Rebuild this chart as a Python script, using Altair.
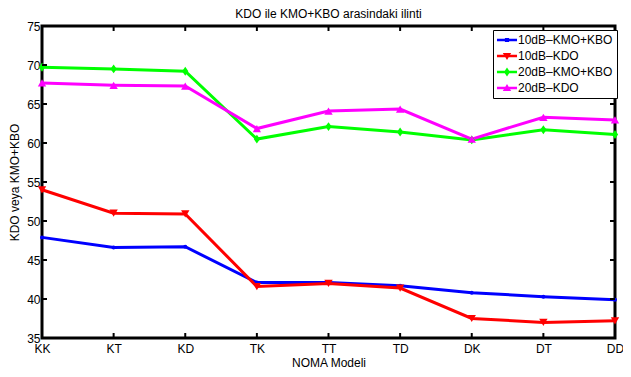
import altair as alt
import pandas as pd

# ---- data ----
models = ["KK", "KT", "KD", "TK", "TT", "TD", "DK", "DT", "DD"]
series_names = ["10dB–KMO+KBO", "10dB–KDO", "20dB–KMO+KBO", "20dB–KDO"]
kmo_kbo_10 = [47.9, 46.6, 46.7, 42.1, 42.1, 41.7, 40.8, 40.3, 39.9]
kdo_10 = [54.0, 51.0, 50.9, 41.6, 42.0, 41.4, 37.5, 37.0, 37.2]
kmo_kbo_20 = [69.7, 69.5, 69.2, 60.5, 62.1, 61.4, 60.4, 61.7, 61.1]
kdo_20 = [67.7, 67.4, 67.3, 61.85, 64.1, 64.35, 60.5, 63.3, 62.95]
colors = ["#0000FF", "#FF0000", "#00FF00", "#FF00FF"]
y_ticks = [35, 40, 45, 50, 55, 60, 65, 70, 75]

# ---- styling ----
FONT = "Liberation Sans"
W, H = 573, 312
marker_shapes = ["circle", "triangle-down", "M0,-1L0.7,0L0,1L-0.7,0Z", "triangle-up"]
marker_sizes = [16, 70, 80, 70]
# legend symbols: a line with the marker on it
bar = "M-1.67,-0.22L1.67,-0.22L1.67,0.22L-1.67,0.22Z"
legend_paths = [
    bar + "M-0.35,-0.35L0.35,-0.35L0.35,0.35L-0.35,0.35Z",
    bar + "M-0.7,-0.5L0.7,-0.5L0,0.65Z",
    bar + "M0,-0.75L0.5,0L0,0.75L-0.5,0Z",
    bar + "M0,-0.65L0.7,0.5L-0.7,0.5Z",
]

rows = []
for name, vals in zip(series_names, [kmo_kbo_10, kdo_10, kmo_kbo_20, kdo_20]):
    for m, v in zip(models, vals):
        rows.append({"model": m, "series": name, "value": v})
df = pd.DataFrame(rows)

x_axis = alt.Axis(
    title="NOMA Modeli", labelAngle=0, domain=False, ticks=False, grid=False,
    labelFont=FONT, labelFontSize=12, labelColor="black", labelPadding=5,
    labelOverlap=False,
    titleFont=FONT, titleFontSize=12, titleFontWeight="normal", titleColor="black",
    titlePadding=3,
)
y_axis = alt.Axis(
    title="KDO veya KMO+KBO", values=y_ticks, domain=False, ticks=False, grid=False,
    labelFont=FONT, labelFontSize=12, labelColor="black", labelPadding=2,
    labelOverlap=False, labelFlush=False,
    titleFont=FONT, titleFontSize=12, titleFontWeight="normal", titleColor="black",
    titlePadding=5,
)
x_scale = alt.Scale(type="point", domain=models, padding=0)
y_scale = alt.Scale(domain=[35, 75], nice=False, zero=False)


def X():
    return alt.X("model:N", sort=models, scale=x_scale, axis=x_axis)


def Y():
    return alt.Y("value:Q", scale=y_scale, axis=y_axis)


base = alt.Chart(df)

layers = []
for name, col in zip(series_names, colors):
    ln = base.transform_filter(alt.datum.series == name).mark_line(
        strokeWidth=3, color=col
    ).encode(x=X(), y=Y())
    layers.append(ln)
for name, col, shp, sz in zip(series_names, colors, marker_shapes, marker_sizes):
    pts = base.transform_filter(alt.datum.series == name).mark_point(
        filled=True, opacity=1, color=col, shape=shp, size=sz, strokeWidth=0
    ).encode(x=X(), y=Y())
    layers.append(pts)

leg_props = dict(
    title=None, orient="none", legendX=451, legendY=4,
    labelFont=FONT, labelFontSize=12, labelColor="black",
    symbolSize=144, symbolStrokeWidth=0, symbolOpacity=1,
    labelOffset=5, symbolOffset=4, rowPadding=4, padding=4,
    strokeColor="black", fillColor="white", cornerRadius=0,
)
legend_layer = base.transform_filter("false").mark_point(filled=True, opacity=1).encode(
    x=X(),
    y=Y(),
    color=alt.Color("series:N", scale=alt.Scale(domain=series_names, range=colors),
                    legend=alt.Legend(**leg_props)),
    shape=alt.Shape("series:N", scale=alt.Scale(domain=series_names, range=legend_paths),
                    legend=alt.Legend(**leg_props)),
)

# inward tick marks on all four sides
tick_x_df = pd.DataFrame({"model": models})
tick_y_df = pd.DataFrame({"value": y_ticks[1:-1]})
tick_bottom = alt.Chart(tick_x_df).mark_rule(color="black", strokeWidth=2).encode(
    x=X(), y=alt.value(H), y2=alt.value(H - 5))
tick_top = alt.Chart(tick_x_df).mark_rule(color="black", strokeWidth=2).encode(
    x=X(), y=alt.value(0), y2=alt.value(5))
tick_left = alt.Chart(tick_y_df).mark_rule(color="black", strokeWidth=2).encode(
    y=Y(), x=alt.value(0), x2=alt.value(5))
tick_right = alt.Chart(tick_y_df).mark_rule(color="black", strokeWidth=2).encode(
    y=Y(), x=alt.value(W - 5), x2=alt.value(W))

chart = alt.layer(
    *layers, tick_bottom, tick_top, tick_left, tick_right, legend_layer
).properties(
    width=W, height=H,
    title=alt.Title("KDO ile KMO+KBO arasindaki ilinti", font=FONT, fontSize=12,
                    fontWeight="normal", color="black", anchor="middle", offset=2, dy=3),
    autosize=alt.AutoSizeParams(type="none"),
    padding={"left": 34, "top": 18, "right": 8, "bottom": 31},
    background="white",
).configure_view(stroke="black", strokeWidth=3)

chart.save("out.html", embed_options={"renderer": "svg", "actions": False})
